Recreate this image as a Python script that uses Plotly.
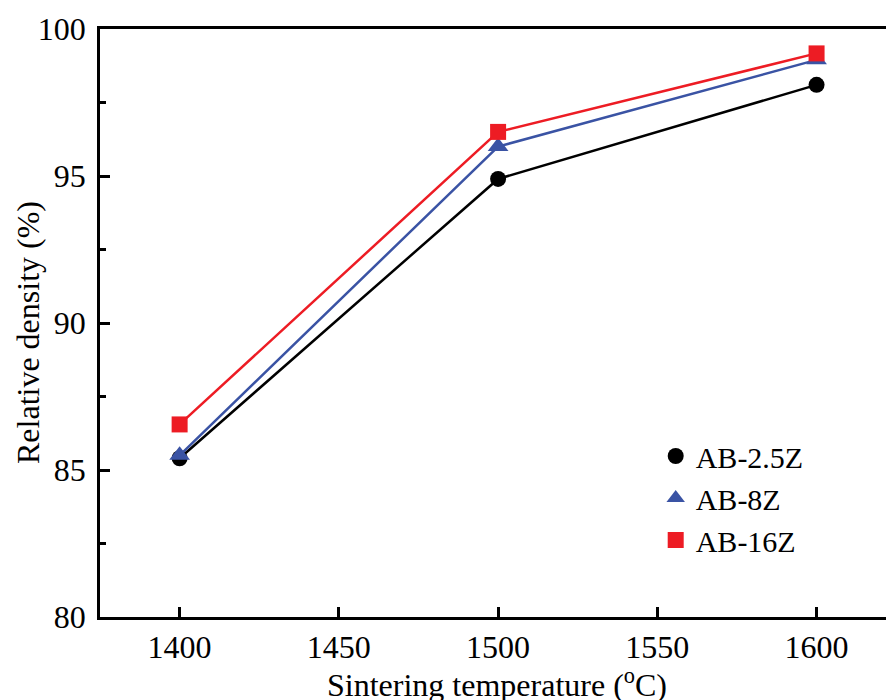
import plotly.graph_objects as go

temperature = [1400, 1500, 1600]
ab_2_5z = [85.4, 94.9, 98.1]
ab_8z = [85.5, 96.0, 98.95]
ab_16z = [86.55, 96.5, 99.17]

series_names = ["AB-2.5Z", "AB-8Z", "AB-16Z"]
series_values = [ab_2_5z, ab_8z, ab_16z]
colors = ["#000000", "#3A53A4", "#ED1C24"]
symbols = ["circle", "triangle-up", "square"]
sizes = [16, 18, 16]

x_ticks = [1400, 1450, 1500, 1550, 1600]
y_ticks = [80, 85, 90, 95, 100]

FONT = "Liberation Serif, Times New Roman, serif"
FS = 32

fig = go.Figure()

for name, vals, c, s, sz in zip(series_names, series_values, colors, symbols, sizes):
    fig.add_trace(go.Scatter(
        x=temperature, y=vals, mode="lines+markers", name=name,
        line=dict(color=c, width=2.5),
        marker=dict(symbol=s, size=sz, color=c),
        showlegend=False,
    ))

for name, c, s, sz in zip(series_names, colors, symbols, sizes):
    fig.add_trace(go.Scatter(
        x=[None], y=[None], mode="markers", name=name,
        marker=dict(symbol=s, size=sz, color=c),
        showlegend=True,
    ))

fig.update_layout(
    width=886, height=700,
    margin=dict(l=100, r=0, t=29, b=83),
    paper_bgcolor="white", plot_bgcolor="white",
    font=dict(family=FONT, size=FS, color="black"),
    legend=dict(
        x=0.707, y=0.318, xanchor="left", yanchor="top",
        bgcolor="rgba(0,0,0,0)", font=dict(family=FONT, size=FS - 2),
        tracegroupgap=0,
    ),
    xaxis=dict(
        range=[1375, 1621.8], tickvals=x_ticks,
        ticks="inside", ticklen=10, tickwidth=2.5, tickcolor="black",
        showline=True, linewidth=2.5, linecolor="black", mirror=True,
        showgrid=False, zeroline=False,
        tickfont=dict(family=FONT, size=FS),
        ticklabelstandoff=0,
    ),
    yaxis=dict(
        range=[80, 100], tickvals=y_ticks,
        ticks="inside", ticklen=10, tickwidth=2.5, tickcolor="black",
        minor=dict(tickvals=[82.5, 87.5, 92.5, 97.5], ticks="inside", ticklen=6, tickwidth=2.5, tickcolor="black"),
        showline=True, linewidth=2.5, linecolor="black", mirror=False,
        showgrid=False, zeroline=False,
        tickfont=dict(family=FONT, size=FS),
        ticklabelstandoff=5,
    ),
    annotations=[
        dict(text="Sintering temperature (<sup>o</sup>C)", xref="paper", yref="paper",
             x=(497 - 100) / 786, y=-(661 - 617) / 588, xanchor="center", yanchor="top",
             showarrow=False, font=dict(family=FONT, size=FS)),
        dict(text="Relative density (%)", xref="paper", yref="paper",
             x=(28 - 100) / 786, y=(617 - 333) / 588, xanchor="center", yanchor="middle",
             textangle=-90, showarrow=False, font=dict(family=FONT, size=FS)),
    ],
)

fig.write_html("out.html")
